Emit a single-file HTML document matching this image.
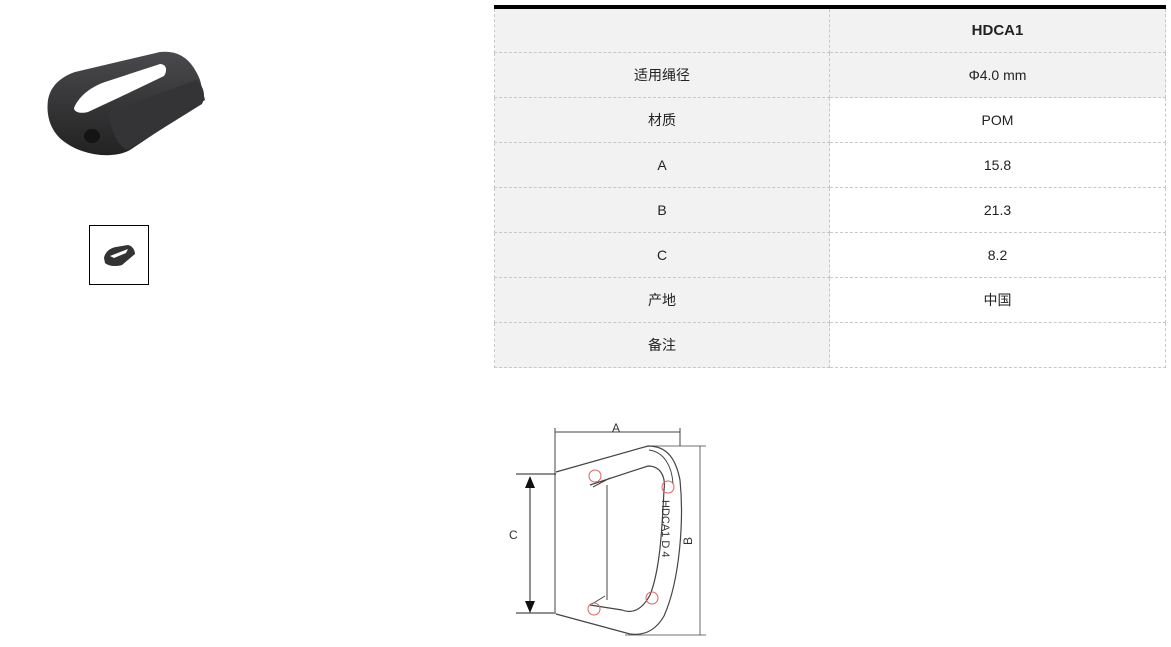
<!DOCTYPE html>
<html><head><meta charset="utf-8"><style>
body{margin:0;width:1171px;height:647px;background:#fff;position:relative;overflow:hidden;font-family:"Liberation Sans","Noto Sans CJK SC",sans-serif;}
table{position:absolute;left:494px;top:5px;border-collapse:collapse;border-top:4px solid #000;}
td{border:1px dashed #c8c8c8;height:44px;text-align:center;font-size:14px;color:#222;padding:0;}
td.l{width:334px;background:#f2f2f2;}
td.r{width:335px;background:#fff;}
td.g{background:#f2f2f2;}
tr:first-child td{height:43px;}
.thumb{position:absolute;left:89px;top:225px;width:58px;height:58px;border:1px solid #000;}
</style></head><body>
<svg style="position:absolute;left:0;top:0" width="260" height="300">
 <defs><linearGradient id="g" x1="0" y1="0" x2="0" y2="1"><stop offset="0" stop-color="#4a4a4e"/><stop offset="1" stop-color="#222"/></linearGradient></defs>
 <path d="M48,100 C50,88 58,78 75,72 L160,52 C180,50 192,60 200,80 L205,100 L130,150 C112,160 80,155 62,140 C50,130 46,115 48,100Z" fill="url(#g)"/>
 <path d="M74,108 C78,98 88,88 105,82 L160,64 C166,64 168,70 164,76 L118,98 L88,112 C80,114 74,112 74,108Z" fill="#fff"/>
 <path d="M110,112 L196,80 C204,86 206,96 202,104 L128,150 C118,148 108,125 110,112Z" fill="#343436"/>
 <ellipse cx="92" cy="136" rx="8" ry="7" fill="#141414"/>
</svg>
<div class="thumb"><svg width="58" height="58"><path d="M14,32 C15,26 20,22 26,21 L38,19 C43,20 45,25 45,28 L32,39 C26,41 18,40 15,37Z" fill="#333"/><path d="M20,30 L38,23 L36,27 L24,32Z" fill="#fff"/></svg></div>
<table>
<tr><td class="l"></td><td class="r g"><b style="font-size:15px">HDCA1</b></td></tr>
<tr><td class="l">适用绳径</td><td class="r g">Φ4.0 mm</td></tr>
<tr><td class="l">材质</td><td class="r">POM</td></tr>
<tr><td class="l">A</td><td class="r">15.8</td></tr>
<tr><td class="l">B</td><td class="r">21.3</td></tr>
<tr><td class="l">C</td><td class="r">8.2</td></tr>
<tr><td class="l">产地</td><td class="r">中国</td></tr>
<tr><td class="l">备注</td><td class="r"></td></tr>
</table>
<svg style="position:absolute;left:0;top:0" width="1171" height="647" fill="none" stroke="#444" stroke-width="1">
 <path d="M555,428 V612 M680,428 V446 M555,432 H680"/>
 <path d="M650,446 H706 M625,635 H706 M700,446 V635" stroke-width="0.8"/>
 <path d="M516,474 H556 M516,613 H556 M530,477 V610" stroke="#222"/>
 <path d="M530,476 l-5,12 h10z M530,613 l-5,-12 h10z" fill="#111" stroke="none"/>
 <path d="M556,472 L648,446 C668,446 676,460 680,480 C684,520 680,580 664,616 C656,630 645,636 630,634 L556,614" stroke-width="1.2"/>
 <path d="M590,485 L648,466 C660,466 666,476 664,490 C662,530 660,570 650,595 C642,610 632,614 622,610 L590,605" stroke-width="1.2"/>
 <path d="M593,487 L610,478 M592,604 L605,596 M607,485 V600 M649,450 C664,452 672,466 673,484"/>
 <circle cx="595" cy="476" r="6" stroke="#e06060"/><circle cx="668" cy="487" r="6" stroke="#e06060"/>
 <circle cx="652" cy="598" r="6" stroke="#e06060"/><circle cx="594" cy="609" r="6" stroke="#e06060"/>
 <g fill="#333" stroke="none" font-size="12" font-family="Liberation Sans,sans-serif">
  <text x="612" y="432">A</text><text x="509" y="539">C</text>
  <text x="0" y="0" transform="translate(692,545) rotate(-90)">B</text>
  <text x="0" y="0" transform="translate(662,500) rotate(90)" font-size="11">HDCA1  D 4</text>
 </g>
</svg>
</body></html>
